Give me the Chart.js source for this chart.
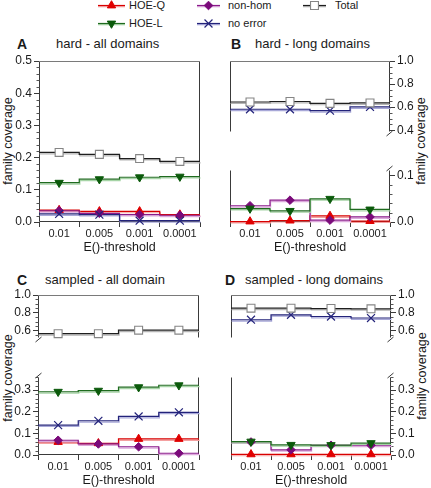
<!DOCTYPE html>
<html><head><meta charset="utf-8">
<script src="https://cdn.jsdelivr.net/npm/chart.js@4/dist/chart.umd.min.js"></script>
<style>
html,body{margin:0;padding:0;background:#fff}
body{width:431px;height:488px;position:relative;overflow:hidden;font-family:"Liberation Sans",Arial,Helvetica,sans-serif;color:#1a1a1a}
canvas{position:absolute;left:0;top:0}
.t{position:absolute;white-space:nowrap;line-height:16px}
.pl{font-weight:bold;font-size:14px}
.pt{font-size:13px}
.lg{position:absolute;white-space:nowrap;font-size:11px;line-height:12px}
.yt{position:absolute;white-space:nowrap;font-size:12.5px;line-height:14px;transform:translate(-50%,-50%) rotate(-90deg)}
</style></head><body>

<div class="lg" style="left:129px;top:-1px">HOE-Q</div>
<div class="lg" style="left:228px;top:-1px">non-hom</div>
<div class="lg" style="left:335px;top:-1px">Total</div>
<div class="lg" style="left:129px;top:17px">HOE-L</div>
<div class="lg" style="left:228px;top:17px">no error</div>

<div class="t pl" style="left:17px;top:36px">A</div>
<div class="t pt" style="left:56px;top:36px">hard - all domains</div>
<div class="t pl" style="left:231px;top:36px">B</div>
<div class="t pt" style="left:255px;top:36px">hard - long domains</div>
<div class="t pl" style="left:17px;top:272px">C</div>
<div class="t pt" style="left:45px;top:272px">sampled - all domain</div>
<div class="t pl" style="left:225px;top:272px">D</div>
<div class="t pt" style="left:245px;top:272px">sampled - long domains</div>

<div class="yt" style="left:8px;top:141px">family coverage</div>
<div class="yt" style="left:421px;top:141px">family coverage</div>
<div class="yt" style="left:8px;top:378px">family coverage</div>
<div class="yt" style="left:422px;top:376px">family coverage</div>

<canvas id="leg" width="431" height="488"></canvas>
<canvas id="cA" width="431" height="488"></canvas>
<canvas id="cBt" width="431" height="488"></canvas>
<canvas id="cBb" width="431" height="488"></canvas>
<canvas id="cCt" width="431" height="488"></canvas>
<canvas id="cCb" width="431" height="488"></canvas>
<canvas id="cDt" width="431" height="488"></canvas>
<canvas id="cDb" width="431" height="488"></canvas>

<script>
// ---------------- data ----------------
const thresholds = ['0.01', '0.005', '0.001', '0.0001'];

// A: hard - all domains
const A_total  = [0.216, 0.210, 0.197, 0.188];
const A_hoeL   = [0.122, 0.133, 0.139, 0.141];
const A_hoeQ   = [0.037, 0.033, 0.033, 0.023];
const A_nonhom = [0.035, 0.027, 0.023, 0.021];
const A_noerr  = [0.025, 0.023, 0.004, 0.004];

// B: hard - long domains
const B_total  = [0.645, 0.649, 0.633, 0.637];
const B_noerr  = [0.582, 0.582, 0.570, 0.602];
const B_hoeL   = [0.029, 0.024, 0.050, 0.027];
const B_hoeQ   = [0.001, 0.003, 0.013, 0.002];
const B_nonhom = [0.035, 0.047, 0.004, 0.011];

// C: sampled - all domain
const C_total  = [0.568, 0.568, 0.607, 0.607];
const C_hoeL   = [0.292, 0.297, 0.313, 0.322];
const C_noerr  = [0.138, 0.158, 0.178, 0.197];
const C_hoeQ   = [0.060, 0.054, 0.074, 0.074];
const C_nonhom = [0.068, 0.051, 0.038, 0.008];

// D: sampled - long domains
const D_total  = [0.853, 0.853, 0.849, 0.846];
const D_noerr  = [0.724, 0.779, 0.760, 0.743];
const D_hoeL   = [0.062, 0.047, 0.046, 0.055];
const D_hoeQ   = [0.003, 0.003, 0.003, 0.003];
const D_nonhom = [0.060, 0.024, 0.045, 0.045];

// y tick labels
const ticksA      = [0, 0.1, 0.2, 0.3, 0.4, 0.5];
const ticksBtop   = [0.4, 0.6, 0.8, 1.0];
const ticksBbot   = [0, 0.1];
const ticksCDtop  = [0.6, 0.8, 1.0];
const ticksCDbot  = [0, 0.1, 0.2, 0.3];

// ---------------- styles ----------------
const F = '"Liberation Sans", Arial, Helvetica, sans-serif';
Chart.defaults.font.family = F;
const STY = {
  total:  {line:'#1e1e1e', shadow:'#b4b4b4', ps:'rect',     r:5.6, rot:0,   fill:'#ffffff', border:'#858585', bw:1.1, order:1},
  hoeL:   {line:'#1f6b1f', shadow:'#a6d4a6', ps:'triangle', r:4.8, rot:180, fill:'#0b5a0b', border:'#0b5a0b', bw:1,   order:3},
  hoeQ:   {line:'#d80000', shadow:'#f4a0a0', ps:'triangle', r:4.8, rot:0,   fill:'#e00000', border:'#e00000', bw:1,   order:5},
  nonhom: {line:'#8a1a8a', shadow:'#dba8db', ps:'rectRot',  r:4.3, rot:0,   fill:'#7a0a7a', border:'#7a0a7a', bw:1,   order:4},
  noerr:  {line:'#23237a', shadow:'#a8a8d8', ps:'crossRot', r:5.6, rot:0,   fill:'#23237a', border:'#23237a', bw:1.2, order:2}
};

function seriesSets(key, vals) {
  const s = STY[key];
  const step = vals.map((v, i) => ({x: i, y: v}));
  step.push({x: vals.length, y: vals[vals.length - 1]});
  return [
    {type:'line', data: step, xAxisID:'x2', yAxisID:'y', stepped:'before', borderColor:s.line, borderWidth:1.2,
     pointRadius:0, fill:false, order:20 + s.order, clip:false, shadowColor:s.shadow},
    {type:'line', data: vals, xAxisID:'x', yAxisID:'y', showLine:false, pointStyle:s.ps, pointRadius:s.r,
     pointRotation:s.rot, pointBackgroundColor:s.fill, pointBorderColor:s.border, pointBorderWidth:s.bw,
     order:s.order, clip:false}
  ];
}

const shadowPlugin = {
  id:'shadowLines',
  beforeDatasetDraw(chart, args) {
    const ds = chart.data.datasets[args.index];
    if (ds.shadowColor) {
      const c = chart.ctx; c.save();
      c.shadowColor = ds.shadowColor; c.shadowOffsetX = 0.6; c.shadowOffsetY = 1.4; c.shadowBlur = 0.6;
    }
  },
  afterDatasetDraw(chart, args) {
    const ds = chart.data.datasets[args.index];
    if (ds.shadowColor) chart.ctx.restore();
  }
};

const framePlugin = {
  id:'frame',
  beforeDatasetsDraw(chart, args, o) {
    const {ctx, chartArea:a} = chart;
    const sides = o.sides || '';
    ctx.save();
    ctx.lineWidth = 1;
    const L = Math.round(a.left) + 0.5, R = Math.round(a.right) - 0.5;
    const T = Math.round(a.top) + 0.5, B = Math.round(a.bottom) - 0.5;
    function ln(x1, y1, x2, y2, col) { ctx.strokeStyle = col; ctx.beginPath(); ctx.moveTo(x1, y1); ctx.lineTo(x2, y2); ctx.stroke(); }
    if (sides.includes('t')) ln(L, T, R, T, '#7a7a7a');
    if (sides.includes('b')) ln(L, B, R, B, '#3a3a3a');
    if (sides.includes('l')) ln(L, T, L, B, '#3a3a3a');
    if (sides.includes('r')) ln(R, T, R, B, '#3a3a3a');
    // minor ticks
    const ys = chart.scales.y;
    if (o.minor) {
      const majors = ys.ticks.map(t => t.value);
      const st = o.minor;
      for (let k = Math.ceil(ys.min / st - 1e-6); k * st <= ys.max + 1e-9; k++) {
        const v = k * st;
        if (majors.some(m => Math.abs(m - v) < 1e-6)) continue;
        const y = Math.round(ys.getPixelForValue(v)) + 0.5;
        if (ys.position === 'left') ln(L - 3, y, L, y, '#555'); else ln(R, y, R + 3, y, '#555');
      }
    }
    // axis break marks
    if (o.brk) {
      const x = ys.position === 'left' ? L : R;
      const y = o.brk === 'bottom' ? a.bottom + 1.5 : a.top - 1.5;
      ln(x - 3, y + 2.5, x + 3, y - 2.5, '#3a3a3a');
    }
    ctx.restore();
  }
};

const W = 431, H = 488, YW = 30, XH = 33;

function makeChart(id, cfg) {
  const pad = {
    left:  cfg.yPos === 'left'  ? cfg.l - YW : cfg.l,
    right: cfg.yPos === 'right' ? W - cfg.r - YW : W - cfg.r,
    top: cfg.t,
    bottom: cfg.xShow ? H - cfg.b - XH : H - cfg.b
  };
  let datasets = [];
  cfg.series.forEach(([k, v]) => { datasets = datasets.concat(seriesSets(k, v)); });
  return new Chart(document.getElementById(id), {
    type:'line',
    data:{labels: thresholds, datasets},
    plugins:[shadowPlugin, framePlugin],
    options:{
      responsive:false, animation:false, devicePixelRatio:1,
      layout:{padding:pad, autoPadding:false},
      plugins:{legend:{display:false}, tooltip:{enabled:false},
        frame:{sides:cfg.sides, minor:cfg.minor, brk:cfg.brk}},
      scales:{
        x:{type:'category', position:'bottom', display:cfg.xShow, offset:true,
          grid:{offset:true, drawOnChartArea:false, drawTicks:true, tickLength:5, color:'#3a3a3a'},
          border:{display:false},
          ticks:{font:{size:11, family:F}, color:'#222', padding:0, maxRotation:0, autoSkip:false},
          title:{display:true, text:'E()-threshold', font:{size:12.5, family:F}, color:'#1a1a1a', padding:0},
          afterFit(s){ s.height = XH; s.paddingLeft = 0; s.paddingRight = 0; s.paddingTop = 0; s.paddingBottom = 0; }
        },
        x2:{type:'linear', display:false, min:0, max:thresholds.length},
        y:{type:'linear', position:cfg.yPos, min:cfg.ymin, max:cfg.ymax,
          afterBuildTicks(s){ s.ticks = cfg.yticks.map(v => ({value:v})); },
          afterFit(s){ s.width = YW; s.paddingTop = 0; s.paddingBottom = 0; s.paddingLeft = 0; s.paddingRight = 0; },
          grid:{drawOnChartArea:false, drawTicks:true, tickLength:5, color:'#3a3a3a'},
          border:{display:false},
          ticks:{font:{size:12, family:F}, color:'#1a1a1a', padding:2, callback:v => Number(v).toFixed(1)}
        }
      }
    }
  });
}

makeChart('cA', {l:39, t:61, r:200, b:222, yPos:'left', ymin:0, ymax:0.5, yticks:ticksA, minor:0.02, xShow:true, sides:'tlrb',
  series:[['total', A_total], ['hoeL', A_hoeL], ['hoeQ', A_hoeQ], ['nonhom', A_nonhom], ['noerr', A_noerr]]});

makeChart('cBt', {l:230, t:61, r:390, b:165, yPos:'right', ymin:0.385, ymax:1.0, yticks:ticksBtop, minor:0.05, xShow:false, sides:'tlr', brk:'bottom',
  series:[['total', B_total], ['noerr', B_noerr]]});
makeChart('cBb', {l:230, t:170, r:390, b:222, yPos:'right', ymin:0, ymax:0.112, yticks:ticksBbot, minor:0.02, xShow:true, sides:'lrb', brk:'top',
  series:[['hoeL', B_hoeL], ['hoeQ', B_hoeQ], ['nonhom', B_nonhom]]});

makeChart('cCt', {l:38, t:295, r:199, b:371, yPos:'left', ymin:0.52, ymax:1.0, yticks:ticksCDtop, minor:0.05, xShow:false, sides:'tlr', brk:'bottom',
  series:[['total', C_total]]});
makeChart('cCb', {l:38, t:377, r:199, b:455, yPos:'left', ymin:0, ymax:0.36, yticks:ticksCDbot, minor:0.02, xShow:true, sides:'lrb', brk:'top',
  series:[['hoeL', C_hoeL], ['noerr', C_noerr], ['hoeQ', C_hoeQ], ['nonhom', C_nonhom]]});

makeChart('cDt', {l:231, t:295, r:391, b:371, yPos:'right', ymin:0.52, ymax:1.0, yticks:ticksCDtop, minor:0.05, xShow:false, sides:'tlr', brk:'bottom',
  series:[['total', D_total], ['noerr', D_noerr]]});
makeChart('cDb', {l:231, t:377, r:391, b:455, yPos:'right', ymin:0, ymax:0.36, yticks:ticksCDbot, minor:0.02, xShow:true, sides:'lrb', brk:'top',
  series:[['hoeL', D_hoeL], ['hoeQ', D_hoeQ], ['nonhom', D_nonhom]]});

// ---------------- legend icons ----------------
(function () {
  const ctx = document.getElementById('leg').getContext('2d');
  const items = [['hoeQ', 98, 5], ['hoeL', 98, 23], ['nonhom', 197, 5], ['noerr', 197, 23], ['total', 303, 5]];
  items.forEach(([k, x, y]) => {
    const s = STY[k];
    const x2 = k === 'hoeQ' || k === 'hoeL' ? x + 27 : x + 23;
    ctx.save();
    ctx.shadowColor = s.shadow; ctx.shadowOffsetY = 1.2;
    ctx.strokeStyle = s.line; ctx.lineWidth = 1.2;
    ctx.beginPath(); ctx.moveTo(x, y + 0.5); ctx.lineTo(x2, y + 0.5); ctx.stroke();
    ctx.restore();
    ctx.save();
    ctx.fillStyle = s.fill; ctx.strokeStyle = s.border; ctx.lineWidth = s.bw;
    const cx = (x + x2) / 2;
    if (Chart.helpers && Chart.helpers.drawPoint) {
      Chart.helpers.drawPoint(ctx, {pointStyle:s.ps, radius:s.r, rotation:s.rot, borderWidth:s.bw}, cx, y + 0.5);
    }
    ctx.restore();
  });
})();
</script>
</body></html>
